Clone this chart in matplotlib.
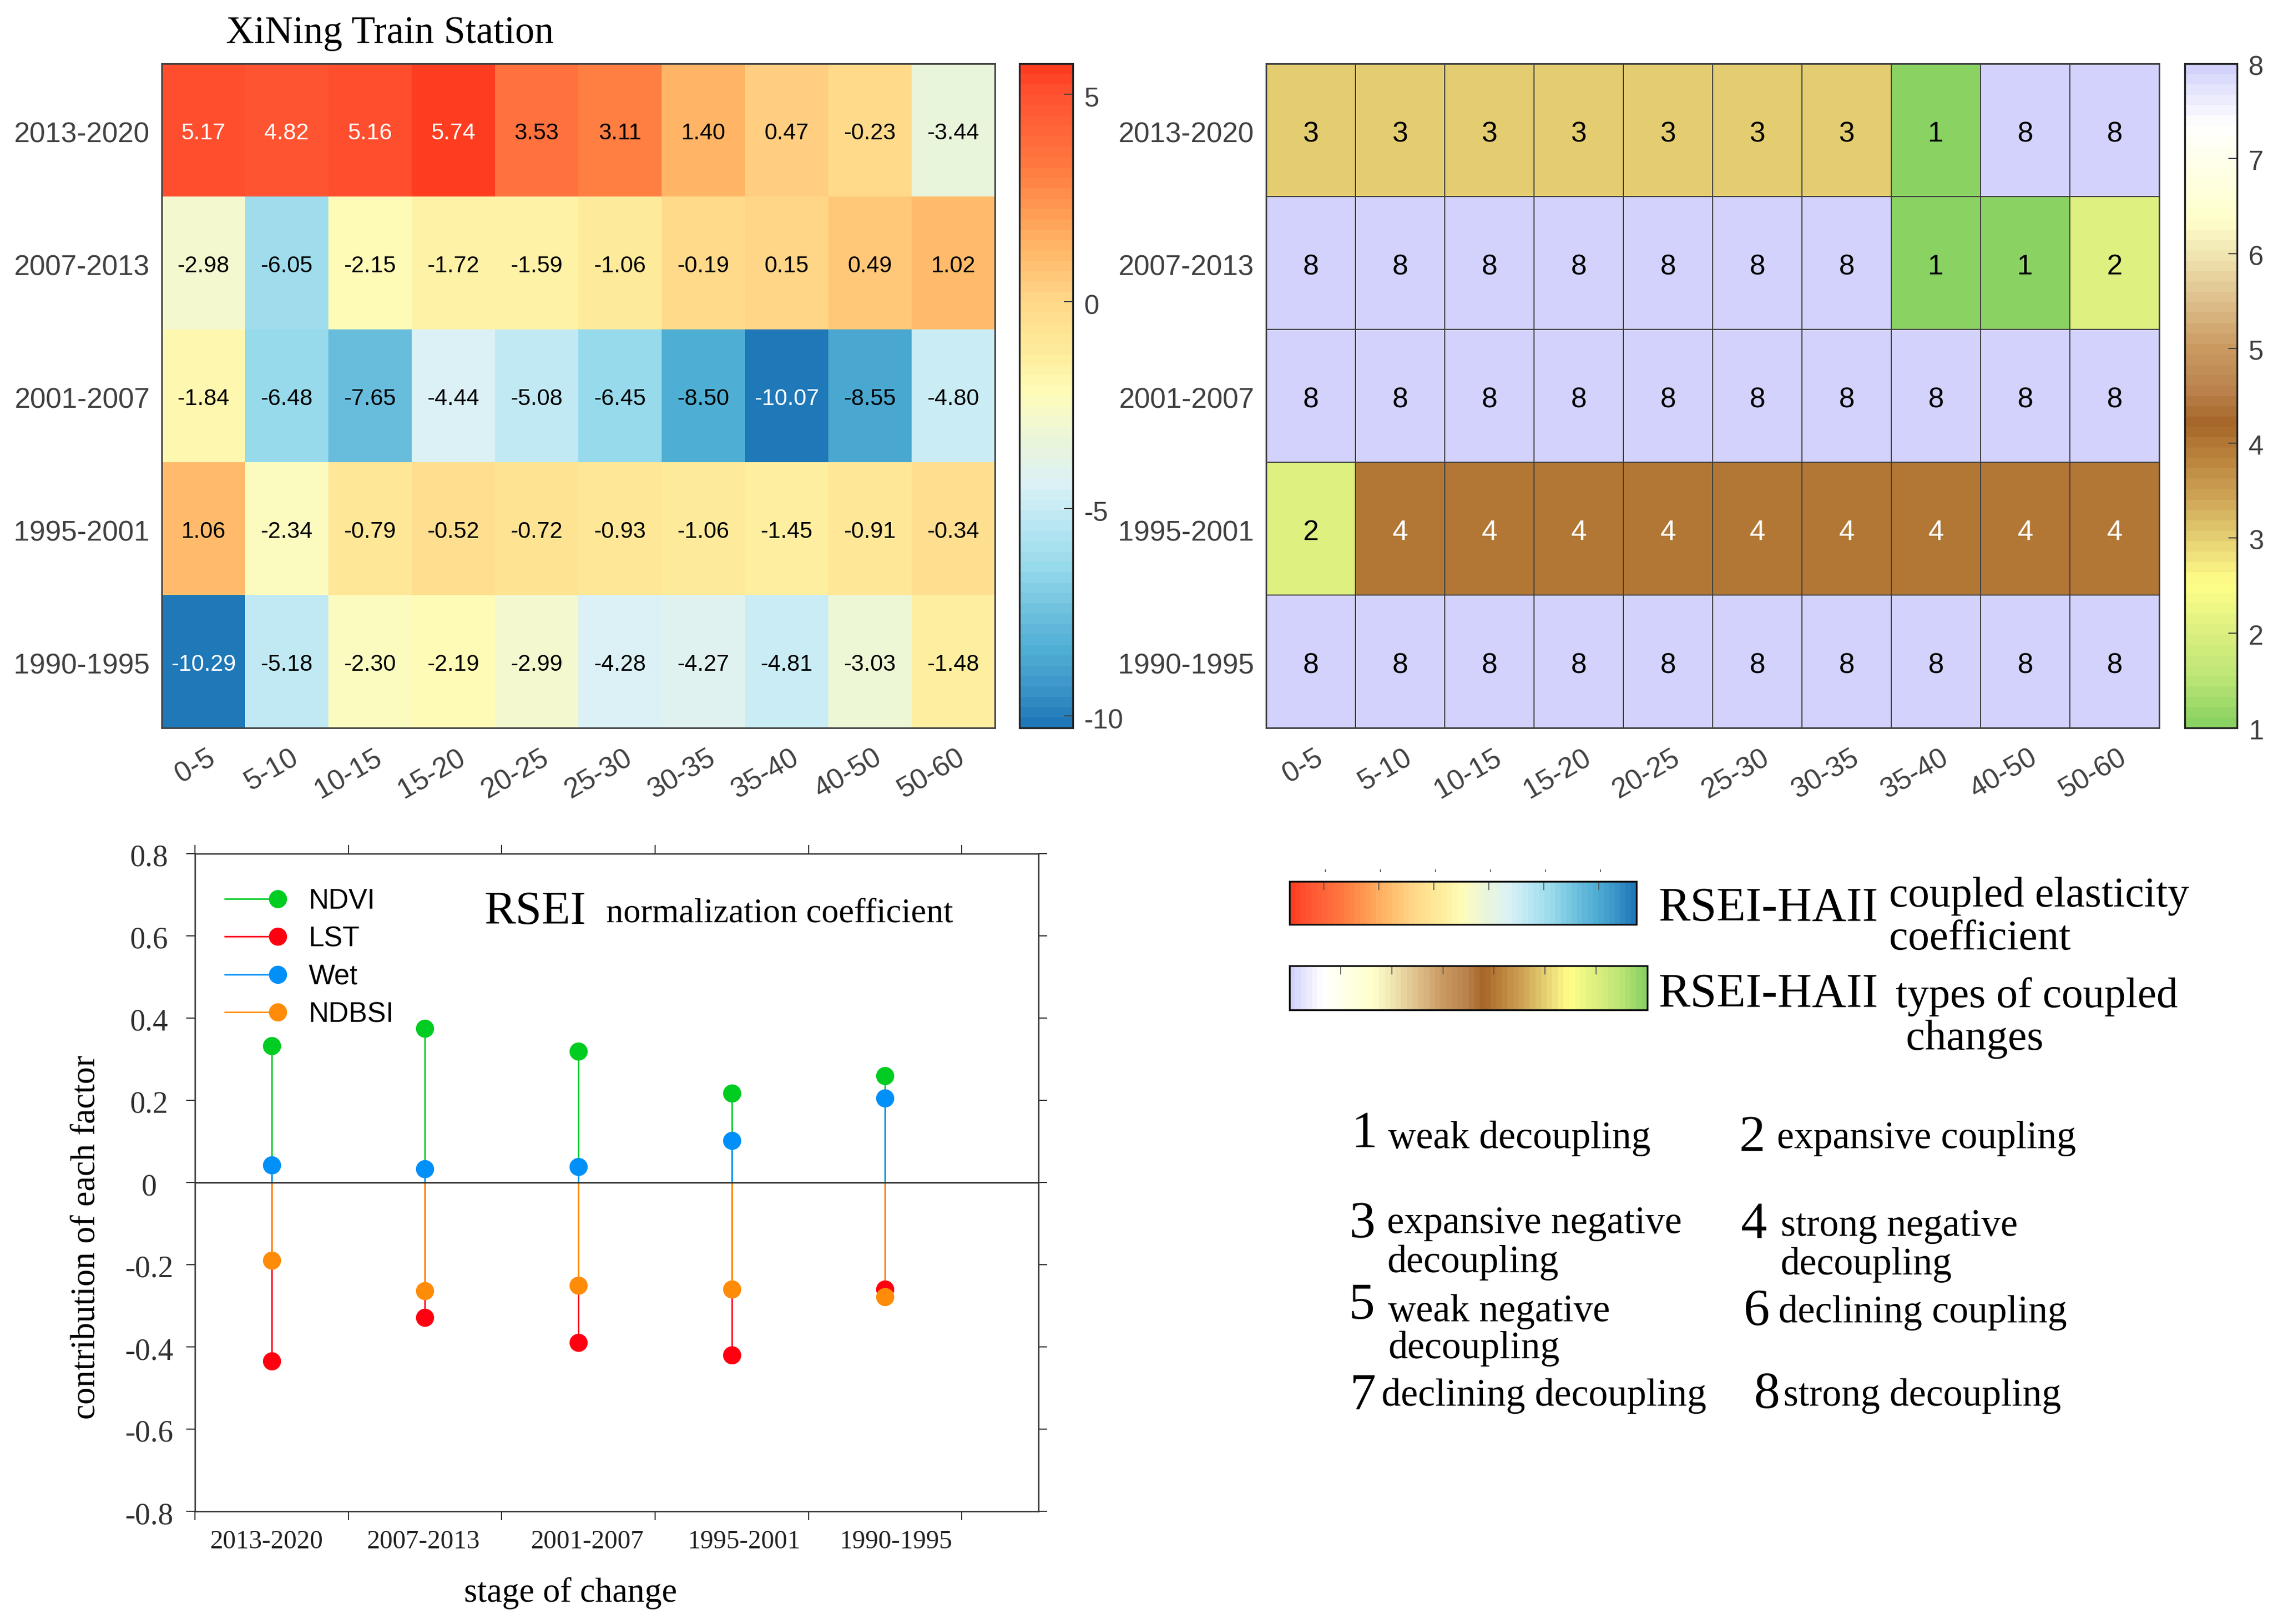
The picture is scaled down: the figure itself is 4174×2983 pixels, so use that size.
import numpy as np
import matplotlib
matplotlib.use('Agg')
import matplotlib.pyplot as plt
from matplotlib.cm import ScalarMappable
from matplotlib.colors import LinearSegmentedColormap, Normalize
from matplotlib.legend_handler import HandlerBase
from matplotlib.lines import Line2D
from matplotlib.transforms import ScaledTranslation

W, H = 4174, 2983
DPI = 300
plt.rcParams['font.family'] = ['Liberation Sans', 'DejaVu Sans']

# data
periods = ['2013-2020', '2007-2013', '2001-2007', '1995-2001', '1990-1995']
distance = ['0-5', '5-10', '10-15', '15-20', '20-25', '25-30', '30-35', '35-40', '40-50', '50-60']
elasticity = np.array([
    [5.17, 4.82, 5.16, 5.74, 3.53, 3.11, 1.40, 0.47, -0.23, -3.44],
    [-2.98, -6.05, -2.15, -1.72, -1.59, -1.06, -0.19, 0.15, 0.49, 1.02],
    [-1.84, -6.48, -7.65, -4.44, -5.08, -6.45, -8.50, -10.07, -8.55, -4.80],
    [1.06, -2.34, -0.79, -0.52, -0.72, -0.93, -1.06, -1.45, -0.91, -0.34],
    [-10.29, -5.18, -2.30, -2.19, -2.99, -4.28, -4.27, -4.81, -3.03, -1.48],
])
coupling = np.array([
    [3, 3, 3, 3, 3, 3, 3, 1, 8, 8],
    [8, 8, 8, 8, 8, 8, 8, 1, 1, 2],
    [8, 8, 8, 8, 8, 8, 8, 8, 8, 8],
    [2, 4, 4, 4, 4, 4, 4, 4, 4, 4],
    [8, 8, 8, 8, 8, 8, 8, 8, 8, 8],
])
ndvi = [0.333, 0.375, 0.319, 0.217, 0.259]
lst = [-0.434, -0.329, -0.389, -0.420, -0.259]
wet = [0.042, 0.033, 0.039, 0.102, 0.205]
ndbsi = [-0.190, -0.263, -0.250, -0.260, -0.278]
factor_names = ['NDVI', 'LST', 'Wet', 'NDBSI']
factor_colors = ['#00CC22', '#FF0011', '#0090F8', '#FF8C08']
stage_x = [0.5, 1.5, 2.5, 3.5, 4.5]
y_ticks = [0.8, 0.6, 0.4, 0.2, 0, -0.2, -0.4, -0.6, -0.8]
y_tick_labels = ['0.8', '0.6', '0.4', '0.2', '0', '-0.2', '-0.4', '-0.6', '-0.8']
stage_label_x = [0.467, 1.49, 2.56, 3.58, 4.57]

# colour maps, 64 steps like the colourbars in the picture
elastic_stops = [(-10.29, '#1F78B8'), (-9.4, '#3C96C8'), (-8.5, '#4FAED4'), (-7.6, '#6DBFDE'),
                 (-6.5, '#95DAEB'), (-5.3, '#BEE8F4'), (-4.4, '#DCF1F6'), (-3.5, '#E8F5DC'),
                 (-2.9, '#F3F8CF'), (-2.2, '#FEFCB9'), (-1.4, '#FEEE9F'), (-0.7, '#FEE494'),
                 (0.1, '#FFD688'), (1.4, '#FFB565'), (3.1, '#FF8043'), (4.0, '#FF6A3A'),
                 (5.17, '#FF5030'), (5.74, '#FE3D20')]
type_stops = [(1, '#8AD262'), (1.5, '#BDE675'), (2, '#DEF080'), (2.5, '#FFFF88'), (2.8, '#EFE07C'),
              (3, '#E3CD70'), (3.5, '#CA9C50'), (4, '#B27734'), (4.2, '#A66528'), (4.6, '#BC8550'),
              (5, '#C9995F'), (5.5, '#DDBE8A'), (6, '#F0E4B0'), (6.4, '#FFFFCC'), (7, '#FFFFEA'),
              (7.4, '#FFFFFF'), (7.7, '#EAEAFD'), (8, '#D2D2FC')]


def make_cmap(stops):
    lo, hi = stops[0][0], stops[-1][0]
    return LinearSegmentedColormap.from_list('c', [((v - lo) / (hi - lo), c) for v, c in stops], N=64)


elastic_cmap = make_cmap(elastic_stops)
type_cmap = make_cmap(type_stops)
elastic_norm = Normalize(-10.29, 5.74)
type_norm = Normalize(1, 8)

fig = plt.figure(figsize=(W / DPI, H / DPI), dpi=DPI, facecolor='white')


def add_axes_px(x0, y0, x1, y1):
    return fig.add_axes([x0 / W, 1 - y1 / H, (x1 - x0) / W, (y1 - y0) / H])


def label(x, y, s, size, **kw):
    fig.text(x / W, 1 - y / H, s, fontsize=size, family='Liberation Serif', color='black', va='baseline', **kw)


def nudge(labels, dx, dy):
    # move tick labels by a few pixels
    shift = ScaledTranslation(dx / DPI, -dy / DPI, fig.dpi_scale_trans)
    for t in labels:
        t.set_transform(t.get_transform() + shift)


class StemHandler(HandlerBase):
    # legend key: a line with one dot at its right end
    def create_artists(self, legend, orig_handle, xdescent, ydescent, width, height, fontsize, trans):
        y = (height - ydescent) / 2
        line = Line2D([-xdescent, width], [y, y], color=orig_handle.get_color(), linewidth=0.65, transform=trans)
        dot = Line2D([width], [y], color=orig_handle.get_color(), marker='o', markersize=8,
                     markeredgewidth=0, linestyle='none', transform=trans)
        return [line, dot]


def heatmap(ax, values, cmap, norm, fmt, size, white, edge, drop):
    ax.pcolormesh(values[::-1], cmap=cmap, norm=norm, edgecolors=edge, linewidth=0.42 if edge != 'none' else 0)
    for r in range(values.shape[0]):
        for c in range(values.shape[1]):
            v = values[r, c]
            ax.text(c + 0.5, values.shape[0] - r - 0.5 - drop, fmt.format(v), ha='center', va='center',
                    fontsize=size, color='white' if white(v) else 'black')
    ax.set_xticks(np.arange(10) + 0.5)
    ax.set_xticklabels(distance, rotation=30, ha='right', va='top', rotation_mode='anchor', fontsize=12.5)
    ax.set_yticks(np.arange(5) + 0.5)
    ax.set_yticklabels(periods[::-1], fontsize=12.5)
    ax.tick_params(axis='x', length=0, pad=7.3, colors='#404040')
    ax.tick_params(axis='y', length=0, pad=5.3, colors='#404040')
    nudge(ax.get_xticklabels(), 6, 0)
    nudge(ax.get_yticklabels(), 0, 4)
    for s in ax.spines.values():
        s.set_color('#404040')
        s.set_linewidth(0.7)


def side_bar(box, cmap, norm, ticks, labels, drop):
    cax = add_axes_px(*box)
    cb = fig.colorbar(ScalarMappable(norm=norm, cmap=cmap), cax=cax)
    cb.set_ticks(ticks)
    cb.set_ticklabels(labels)
    cax.tick_params(direction='in', length=3.8, width=0.5, color='#404040', labelcolor='#404040', labelsize=12, pad=5)
    nudge(cax.get_yticklabels(), 0, drop)
    cb.outline.set_linewidth(0.8)
    cb.outline.set_edgecolor('#222222')


# top left
ax1 = add_axes_px(297, 117, 1827, 1337)
heatmap(ax1, elasticity, elastic_cmap, elastic_norm, '{:.2f}', 10.1, lambda v: v > 4 or v < -10, 'none', 0.025)
side_bar((1872, 117, 1970, 1337), elastic_cmap, elastic_norm, [5, 0, -5, -10], ['5', '0', '-5', '-10'], 5)
label(415, 79, 'XiNing Train Station', 17.1)

# top right
ax2 = add_axes_px(2325, 117, 3965, 1337)
heatmap(ax2, coupling, type_cmap, type_norm, '{:d}', 12.5, lambda v: v == 4, '#404040', 0.032)
side_bar((4012, 117, 4108, 1337), type_cmap, type_norm, list(range(1, 9)), [str(i) for i in range(1, 9)], 3)

# bottom left
ax3 = add_axes_px(358, 1568, 1907, 2776)
series = [ndvi, lst, wet, ndbsi]
for values, color in zip(series, factor_colors):
    ax3.vlines(stage_x, 0, values, color=color, linewidth=0.65, zorder=2)
for values, color in zip(series, factor_colors):
    ax3.plot(stage_x, values, 'o', color=color, markersize=8, markeredgewidth=0, zorder=3)
ax3.axhline(0, color='#303030', linewidth=0.7, zorder=4)
ax3.set_xlim(0, 5.5)
ax3.set_ylim(-0.8, 0.8)
ax3.set_xticks([0, 1, 2, 3, 4, 5])
ax3.set_xticklabels([])
ax3.set_yticks(y_ticks)
ax3.set_yticklabels(y_tick_labels, family='Liberation Serif', fontsize=13.5, color='#303030', ha='center')
ax3.tick_params(axis='both', direction='out', length=3.8, width=0.5, color='#303030', top=True, right=True)
ax3.tick_params(axis='y', pad=16.3)
nudge(ax3.get_yticklabels(), 0, 3)
for s in ax3.spines.values():
    s.set_color('#303030')
    s.set_linewidth(0.6)
stage_label_y = -0.8 - (2832 - 2776) / (2776 - 1568) * 1.6
for x, s in zip(stage_label_x, periods):
    ax3.text(x, stage_label_y, s, ha='center', va='center', family='Liberation Serif', fontsize=11.5, color='#202020')
handles = [Line2D([0], [0], color=c) for c in factor_colors]
ax3.legend(handles, factor_names, loc='upper left', bbox_to_anchor=(0.0355, 0.948), frameon=False,
           fontsize=12.3, handlelength=1.9, handletextpad=1.1, labelspacing=0.4, borderpad=0, borderaxespad=0,
           handler_map={Line2D: StemHandler()})
label(890, 1697, 'RSEI', 20.7)
label(1113, 1694, 'normalization coefficient', 15.2)
fig.text(159 / W, 1 - 2273 / H, 'contribution of each factor', rotation=90, ha='center', va='center',
         family='Liberation Serif', fontsize=15.1)
label(1048, 2942, 'stage of change', 15.1, ha='center')

# bottom right, the two flat colour bars
bar1 = add_axes_px(2368, 1619, 3005, 1698)
cb1 = fig.colorbar(ScalarMappable(norm=elastic_norm, cmap=elastic_cmap), cax=bar1, orientation='horizontal')
bar1.invert_xaxis()
elastic_marks = [4.15, 1.61, -0.93, -3.47, -6.01, -8.55]
cb1.set_ticks(elastic_marks)
bar1.xaxis.set_ticks_position('top')
bar1.tick_params(direction='in', length=3.8, width=0.4, color='#505050', labeltop=False, labelbottom=False)
bar1.vlines([m - 0.08 for m in elastic_marks], 1.22, 1.28, color='#505050', linewidth=0.4, clip_on=False,
            transform=bar1.get_xaxis_transform())
cb1.outline.set_linewidth(0.8)
cb1.outline.set_edgecolor('#111111')

bar2 = add_axes_px(2368, 1774, 3025, 1855)
cb2 = fig.colorbar(ScalarMappable(norm=type_norm, cmap=type_cmap), cax=bar2, orientation='horizontal')
bar2.invert_xaxis()
cb2.set_ticks([7, 6, 5, 4, 3, 2])
bar2.xaxis.set_ticks_position('top')
bar2.tick_params(direction='in', length=3.8, width=0.4, color='#505050', labeltop=False, labelbottom=False)
cb2.outline.set_linewidth(0.8)
cb2.outline.set_edgecolor('#111111')

label(3045, 1691, 'RSEI-HAII', 21)
label(3469, 1665, 'coupled elasticity', 18.8)
label(3469, 1744, 'coefficient', 18.8)
label(3045, 1849, 'RSEI-HAII', 21)
label(3481, 1850, 'types of coupled', 18.8)
label(3500, 1928, 'changes', 18.8)

# list of the eight types
for x, y, s in [(2482, 2107, '1'), (3194, 2115, '2'), (2477, 2273, '3'), (3196, 2274, '4'),
                (2476, 2423, '5'), (3202, 2434, '6'), (2479, 2588, '7'), (3220, 2586, '8')]:
    label(x, y, s, 23)
for x, y, s in [(2549, 2109, 'weak decoupling'), (3263, 2109, 'expansive coupling'),
                (2547, 2265, 'expansive negative'), (2547, 2337, 'decoupling'),
                (3270, 2270, 'strong negative'), (3270, 2341, 'decoupling'),
                (2549, 2427, 'weak negative'), (2549, 2495, 'decoupling'),
                (3266, 2429, 'declining coupling'), (2537, 2582, 'declining decoupling'),
                (3275, 2582, 'strong decoupling')]:
    label(x, y, s, 17)

fig.savefig('out.png', dpi=DPI)
